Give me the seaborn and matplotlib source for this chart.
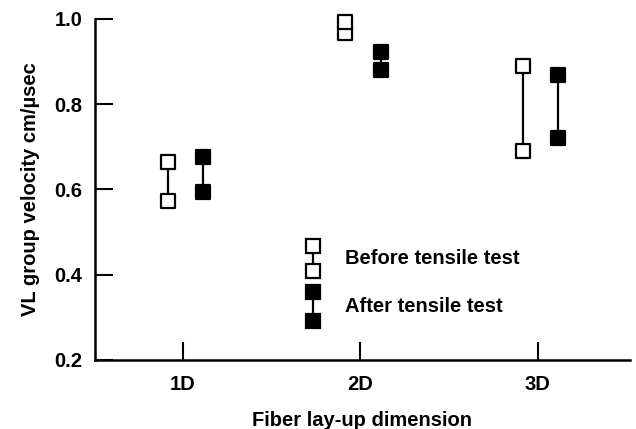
import matplotlib
matplotlib.use("Agg")
import matplotlib.pyplot as plt
import seaborn as sns
import pandas as pd
import numpy as np

categories = ["1D", "2D", "3D"]
before_low = [0.573, 0.967, 0.691]
before_high = [0.665, 0.993, 0.890]
after_low = [0.593, 0.881, 0.721]
after_high = [0.677, 0.923, 0.869]
yticks = [0.2, 0.4, 0.6, 0.8, 1.0]

sns.set_theme(style="white")
plt.rcParams["font.family"] = ["Liberation Sans", "DejaVu Sans"]
plt.rcParams["font.weight"] = "bold"
plt.rcParams["text.color"] = "black"
plt.rcParams["axes.labelcolor"] = "black"

FS = 14.5

offsets = {"Before tensile test": -0.085, "After tensile test": 0.115}
rows = []
for i, c in enumerate(categories):
    for grp, lo, hi in [("Before tensile test", before_low[i], before_high[i]),
                        ("After tensile test", after_low[i], after_high[i])]:
        for v in (lo, hi):
            rows.append({"cat": c, "x": i + 1 + offsets[grp], "y": v,
                         "group": grp, "unit": f"{c}-{grp}"})
df = pd.DataFrame(rows)

fig = plt.figure(figsize=(6.36, 4.29), dpi=100)
ax = fig.add_axes([0.149, 0.161, 0.841, 0.795])

sns.lineplot(data=df, x="x", y="y", units="unit", estimator=None,
             color="black", linewidth=1.6, ax=ax, legend=False, sort=False)
ms = 110
sns.scatterplot(data=df[df.group == "Before tensile test"], x="x", y="y",
                marker="s", s=ms, facecolor="white", edgecolor="black",
                linewidth=1.6, ax=ax, zorder=3, legend=False, clip_on=False)
sns.scatterplot(data=df[df.group == "After tensile test"], x="x", y="y",
                marker="s", s=ms, facecolor="black", edgecolor="black",
                linewidth=1.6, ax=ax, zorder=3, legend=False, clip_on=False)

# legend drawn manually in axes coordinates
lx = 0.408
tr = ax.transAxes
ax.plot([lx, lx], [0.335, 0.26], color="black", lw=1.6, transform=tr, clip_on=False)
ax.plot([lx, lx], [0.2, 0.115], color="black", lw=1.6, transform=tr, clip_on=False)
ax.plot([lx, lx], [0.335, 0.26], "s", ms=10.5, mfc="white", mec="black", mew=1.6,
        transform=tr, clip_on=False)
ax.plot([lx, lx], [0.2, 0.115], "s", ms=10.5, mfc="black", mec="black", mew=1.6,
        transform=tr, clip_on=False)
ax.text(0.468, 0.297, "Before tensile test", transform=tr, fontsize=FS,
        fontweight="bold", va="center", ha="left", color="black")
ax.text(0.468, 0.158, "After tensile test", transform=tr, fontsize=FS,
        fontweight="bold", va="center", ha="left", color="black")

ax.set_xlim(0.504, 3.518)
ax.set_ylim(0.2, 1.0)
ax.set_xticks([1, 2, 3])
ax.set_xticklabels(categories)
ax.set_yticks(yticks)
ax.set_yticklabels([f"{t:.1f}" for t in yticks])
ax.tick_params(axis="both", direction="in", length=13, width=1.5, labelsize=FS,
               colors="black", left=True, bottom=True)
ax.tick_params(axis="y", pad=9)
ax.tick_params(axis="x", pad=11)
for lab in ax.get_xticklabels() + ax.get_yticklabels():
    lab.set_fontweight("bold")
ax.set_xlabel("Fiber lay-up dimension", fontsize=FS, fontweight="bold", labelpad=12,
              color="black")
ax.set_ylabel("VL group velocity cm/\u00b5sec", fontsize=FS, fontweight="bold", labelpad=10,
              color="black")
for s in ["top", "right"]:
    ax.spines[s].set_visible(False)
for s in ["left", "bottom"]:
    ax.spines[s].set_color("black")
    ax.spines[s].set_linewidth(1.8)

fig.savefig("out.png", dpi=100)
